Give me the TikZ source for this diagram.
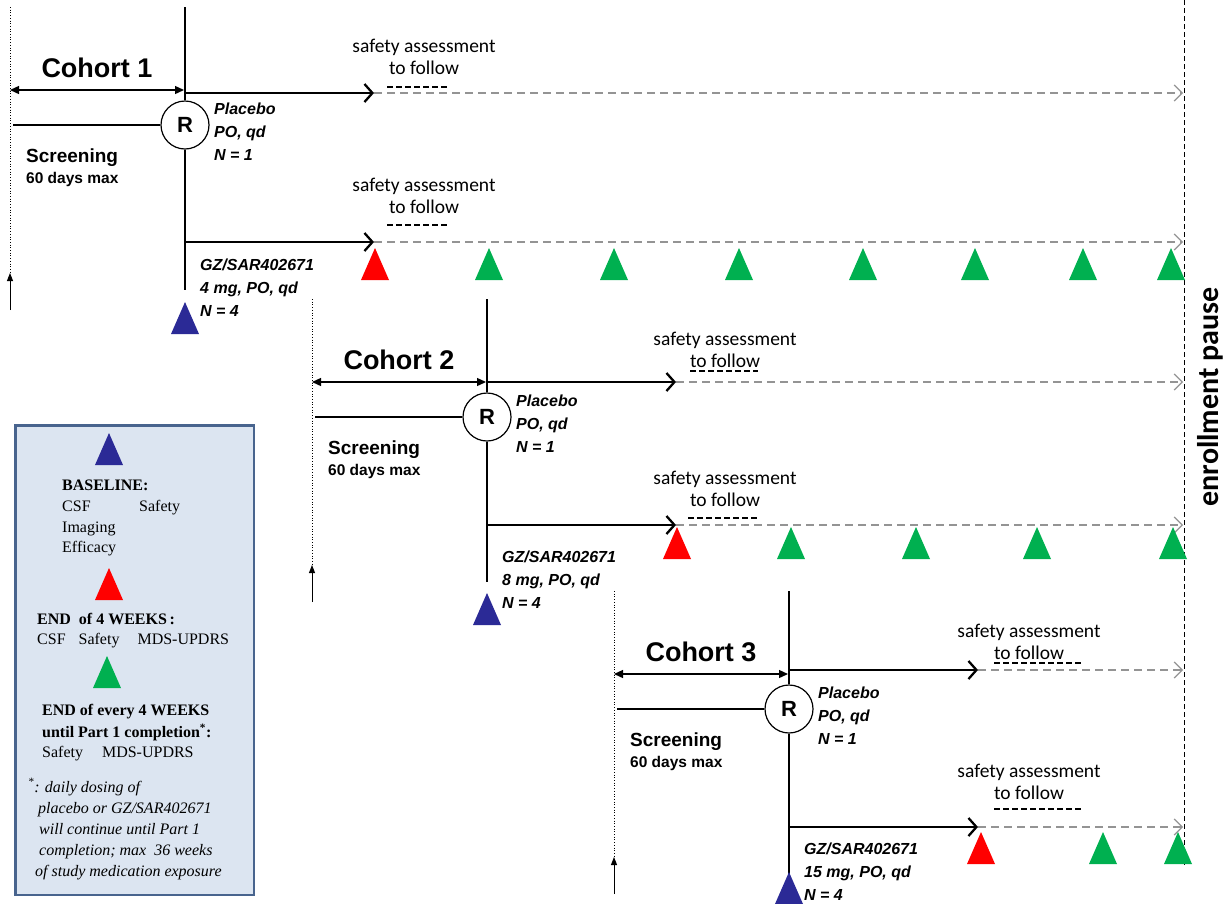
\documentclass[tikz,border=0pt]{standalone}
\usepackage{fontspec}
\setmainfont{Liberation Sans}
\newfontfamily\calib{Carlito}
\newfontfamily\serifkey{Liberation Serif}
\usetikzlibrary{arrows.meta}

\definecolor{tblue}{RGB}{43,42,150}
\definecolor{tred}{RGB}{255,0,0}
\definecolor{tgreen}{RGB}{0,176,80}
\definecolor{boxfill}{RGB}{220,229,241}
\definecolor{boxline}{RGB}{72,100,142}

\begin{document}
\begin{tikzpicture}[x=1pt, y=-1pt,
  cohort/.style={inner sep=0pt, font=\bfseries\fontsize{27}{27}\selectfont},
  scr/.style={inner sep=0pt, anchor=west, font=\bfseries\fontsize{19}{19}\selectfont},
  days/.style={inner sep=0pt, anchor=west, font=\bfseries\fontsize{15.5}{15.5}\selectfont},
  arm/.style={inner sep=0pt, anchor=north west, align=left, font=\bfseries\itshape\fontsize{16}{23}\selectfont},
  safety/.style={inner sep=0pt, align=center, font=\calib\fontsize{19.5}{21.5}\selectfont},
  randnode/.style={draw, circle, line width=1.2pt, minimum size=48pt, inner sep=0pt, font=\bfseries\fontsize{22}{22}\selectfont},
  keytext/.style={inner sep=0pt, anchor=base west, font=\serifkey\fontsize{16}{16}\selectfont},
  span/.style={line width=1.3pt, {Triangle[length=9pt,width=8pt]}-{Triangle[length=9pt,width=8pt]}},
  arm line/.style={line width=2.5pt, -{Straight Barb[length=8pt,width=18pt,line width=2.3pt]}},
  follow/.style={draw=black!42, line width=1.2pt, dash pattern=on 8pt off 5pt, -{Straight Barb[length=8pt,width=16pt,line width=1.2pt]}},
  tbd/.style={line width=2.4pt, dash pattern=on 6pt off 3pt}]
\useasboundingbox (0,0) rectangle (1229,903);

% cohorts
\foreach \n/\x/\y/\p/\g/\dose in {1/185/125/93/242/4, 2/487/417/382/525/8, 3/789/709/670/827/15} {
  \node[randnode] (R\n) at (\x,\y) {R};
  \coordinate (top\n) at (\x,\y-118);
  \coordinate (bot\n) at (\x,\y+165);
  \coordinate (scr\n) at (\x-172,\y);
  \coordinate (dot\n) at (\x-175,\y-118);
  \coordinate (up\n) at (\x-175,\y+148);
  \coordinate (low\n) at (\x-175,\y+185);
  \coordinate (spanL\n) at (\x-175,\y-35);
  \coordinate (spanR\n) at (\x-1,\y-35);
  \coordinate (pl\n) at (\x,\p);
  \coordinate (plEnd\n) at (\x+189,\p);
  \coordinate (plFar\n) at (1183,\p);
  \coordinate (gz\n) at (\x,\g);
  \coordinate (gzEnd\n) at (\x+189,\g);
  \coordinate (gzFar\n) at (1183,\g);
  \draw[line width=1.2pt] (top\n) -- (R\n) -- (bot\n);
  \draw[line width=1.2pt] (scr\n) -- (R\n);
  \draw[dotted, line width=0.7pt] (dot\n) -- (up\n);
  \draw[line width=1pt, -{Triangle[length=8pt,width=6pt]}] (low\n) -- (up\n);
  \draw[span] (spanL\n) -- (spanR\n);
  \draw[arm line] (pl\n) -- (plEnd\n);
  \draw[follow] (plEnd\n) -- (plFar\n);
  \draw[arm line] (gz\n) -- (gzEnd\n);
  \draw[follow] (gzEnd\n) -- (gzFar\n);
  \node[cohort] (coh\n) at (\x-88,\y-57) {Cohort \n};
  \node[scr] (scrT\n) at (\x-159,\y+33) {Screening};
  \node[days] (days\n) at (\x-159,\y+54) {60 days max};
  \node[arm] (plT\n) at (\x+29,\y-22) {Placebo\\PO, qd\\N = 1};
  \node[arm] (gzT\n) at (\x+15,\y+134) {GZ/SAR402671\\\dose{} mg, PO, qd\\N = 4};
}

\node[safety] (sa1) at (424,57) {safety assessment\\to follow};
\node[safety] (sa2) at (424,196) {safety assessment\\to follow};
\node[safety] (sa3) at (725,350) {safety assessment\\to follow};
\node[safety] (sa4) at (725,489) {safety assessment\\to follow};
\node[safety] (sa5) at (1029,642) {safety assessment\\to follow};
\node[safety] (sa6) at (1029,782) {safety assessment\\to follow};
\draw[tbd] (387,87) -- (447,87);
\draw[tbd] (387,225) -- (447,225);
\draw[tbd] (690,371) -- (758,371);
\draw[tbd] (688,518) -- (758,518);
\draw[tbd] (994,663) -- (1082,663);
\draw[tbd] (994,809) -- (1082,809);

% enrollment pause
\coordinate (pauseTop) at (1184,0);
\coordinate (pauseBot) at (1184,865);
\draw[line width=1pt, dash pattern=on 5pt off 3pt] (pauseTop) -- (pauseBot);
\node[rotate=90, inner sep=0pt, font=\calib\bfseries\fontsize{30}{30}\selectfont] (pause) at (1210,397) {enrollment pause};

% legend
\node[draw=boxline, fill=boxfill, line width=2.5pt, minimum width=238.5pt, minimum height=469.5pt, inner sep=0pt, anchor=north west] (legend) at (14.25,424.25) {};
\node[keytext] (kBase) at (62,490.5) {\bfseries BASELINE:};
\node[keytext] (kCsf) at (62,511.5) {CSF};
\node[keytext] (kSaf) at (139,511.5) {Safety};
\node[keytext] (kImg) at (62,532.5) {Imaging};
\node[keytext] (kEff) at (62,552.5) {Efficacy};
\node[keytext] (kEnd) at (37,624.5) {\bfseries END\ \ of 4 WEEKS\,:};
\node[keytext] (kEndL) at (37,644.5) {CSF\hspace{13pt}Safety\hspace{18pt}MDS-UPDRS};
\node[keytext] (kEvery) at (42,715.5) {\bfseries END\ of\ every\ 4\ WEEKS};
\node[keytext] (kUntil) at (42,737.5) {\bfseries until Part 1 completion\textsuperscript{*}:};
\node[keytext] (kEveryL) at (42,757.5) {Safety\hspace{19pt}MDS-UPDRS};
\node[keytext] (note1) at (28,792) {\itshape\textsuperscript{*}: daily dosing of};
\node[keytext] (note2) at (38,813) {\itshape placebo or GZ/SAR402671};
\node[keytext] (note3) at (39,834) {\itshape will continue until Part 1};
\node[keytext] (note4) at (39,855) {\itshape completion; max\ \ 36 weeks};
\node[keytext] (note5) at (35,876) {\itshape of study medication exposure};

% visit markers
\foreach \tx/\ty/\tc in {185/302/tblue, 487/593/tblue, 789/872/tblue,
    375/248/tred, 677/527/tred, 981/832/tred,
    489/248/tgreen, 614/248/tgreen, 739/248/tgreen, 863/248/tgreen, 975/248/tgreen, 1083/248/tgreen, 1171/248/tgreen,
    791/527/tgreen, 916/527/tgreen, 1037/527/tgreen, 1173/527/tgreen,
    1103/832/tgreen, 1178/832/tgreen,
    109/433/tblue, 109/568/tred, 107/656/tgreen}
  \fill[\tc] (\tx,\ty) -- ++(14,32) -- ++(-28,0) -- cycle;
\end{tikzpicture}
\end{document}
